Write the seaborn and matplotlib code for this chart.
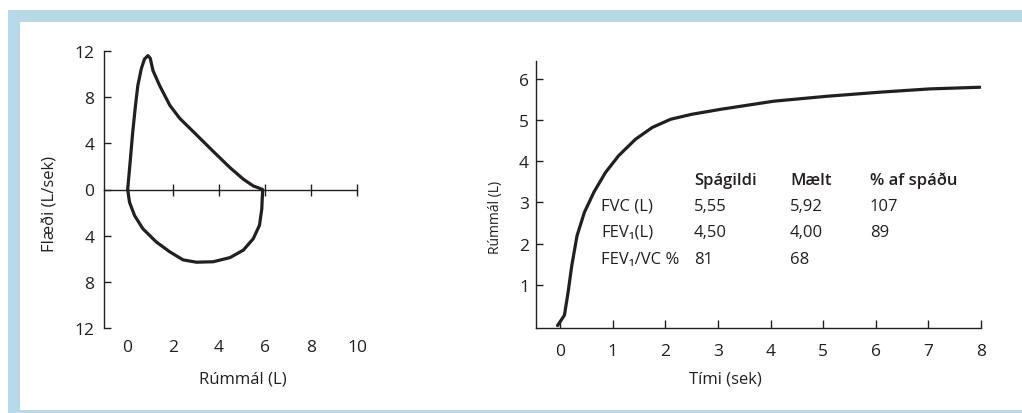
import matplotlib
matplotlib.use("Agg")
import matplotlib.pyplot as plt
import seaborn as sns
import pandas as pd
from matplotlib.patches import Rectangle

# ---------------- data ----------------
# flow-volume loop (expiration: positive flow, inspiration: negative flow)
loop_volume = [0.03, 0.14, 0.25, 0.37, 0.47, 0.62, 0.76, 0.91, 1.01, 1.13, 1.42, 1.86,
               2.29, 3.02, 3.75, 4.48, 5.06, 5.49, 5.90,
               5.88, 5.86, 5.76, 5.49, 5.06, 4.48, 3.75, 3.02, 2.44, 1.86, 1.27,
               0.69, 0.33, 0.11, 0.03]
loop_flow = [0.0, 2.46, 5.0, 7.3, 9.0, 10.45, 11.3, 11.6, 11.37, 10.3, 9.0, 7.3,
             6.17, 4.74, 3.3, 1.89, 0.89, 0.31, 0.0,
             -0.8, -1.69, -3.1, -4.26, -5.25, -5.9, -6.26, -6.3, -6.1, -5.4, -4.54,
             -3.4, -2.26, -1.11, 0.0]

# volume-time curve
time_s = [-0.05, 0.08, 0.15, 0.22, 0.32, 0.46, 0.64, 0.86, 1.11, 1.43, 1.75, 2.1,
          2.5, 3.04, 4.06, 5.07, 6.08, 7.03, 7.98]
volume_l = [0.0, 0.25, 0.81, 1.46, 2.19, 2.76, 3.25, 3.73, 4.14, 4.54, 4.83, 5.03,
            5.15, 5.27, 5.47, 5.59, 5.69, 5.77, 5.81]

left_xticks = [0, 2, 4, 6, 8, 10]
left_axis_ticks = [2, 4, 6, 8, 10]
left_yticks = [-12, -8, -4, 0, 4, 8, 12]
right_xticks = [0, 1, 2, 3, 4, 5, 6, 7, 8]
right_yticks = [1, 2, 3, 4, 5, 6]

table_header = ["Spágildi", "Mælt", "% af spáðu"]
table_rows = ["FVC (L)", "FEV\u2081(L)", "FEV\u2081/VC %"]
predicted = ["5,55", "4,50", "81"]
measured = ["5,92", "4,00", "68"]
pct_pred = ["107", "89", ""]

# ---------------- style ----------------
sns.set_style("ticks")
plt.rcParams["font.family"] = ["Open Sans", "DejaVu Sans"]
plt.rcParams["axes.linewidth"] = 1.0
ink = "#231f20"
fs = 12
tfs = 12.5

W, H = 1022, 414
fig = plt.figure(figsize=(W / 100, H / 100), dpi=100)
fig.patch.set_facecolor("white")
blue = "#b9d9e9"
fig.patches.append(Rectangle((8 / W, 0), 12 / W, (H - 11) / H, transform=fig.transFigure,
                             facecolor=blue, edgecolor="none", zorder=0))
fig.patches.append(Rectangle((8 / W, (H - 23) / H), (W - 8) / W, 12 / H, transform=fig.transFigure,
                             facecolor=blue, edgecolor="none", zorder=0))
fig.patches.append(Rectangle((20 / W, 0), (W - 20) / W, 3 / H, transform=fig.transFigure,
                             facecolor=blue, edgecolor="none", zorder=0))

def px_axes(l, t, r, b):
    return fig.add_axes([l / W, (H - b) / H, (r - l) / W, (b - t) / H])

# ---------------- left: flow-volume loop ----------------
ax1 = px_axes(104, 52, 357, 329)
df1 = pd.DataFrame({"vol": loop_volume, "flow": loop_flow})
sns.lineplot(data=df1, x="vol", y="flow", sort=False, estimator=None, ax=ax1,
             color=ink, linewidth=2.3)
ax1.set_xlim(-1, 10)
ax1.set_ylim(-12, 12)
for s in ["top", "right"]:
    ax1.spines[s].set_visible(False)
ax1.spines["bottom"].set_position(("data", 0))
ax1.spines["bottom"].set_color(ink)
ax1.spines["left"].set_color(ink)
ax1.set_xticks(left_axis_ticks)
ax1.tick_params(axis="x", direction="inout", length=8, width=1, color=ink, labelbottom=False)
ax1.set_yticks(left_yticks)
ax1.set_yticklabels([str(abs(v)) for v in left_yticks])
ax1.tick_params(axis="y", direction="in", length=5, width=1, color=ink, pad=7,
                labelsize=tfs, labelcolor=ink)
ax1.set_xlabel("Rúmmál (L)", fontsize=fs, color=ink)
ax1.xaxis.set_label_coords(0.549, -0.184)
ax1.xaxis.label.set_va("center")
ax1.set_ylabel("Flæði (L/sek)", fontsize=fs, color=ink)
ax1.yaxis.set_label_coords(-0.213, 0.45)
ax1.yaxis.label.set_va("center")

sec = ax1.secondary_xaxis("bottom")
sec.set_xticks(left_xticks)
sec.spines["bottom"].set_visible(False)
sec.tick_params(length=0, pad=8, labelsize=tfs, labelcolor=ink)

# ---------------- right: volume-time ----------------
ax2 = px_axes(536, 62, 981, 329)
df2 = pd.DataFrame({"t": time_s, "v": volume_l})
sns.lineplot(data=df2, x="t", y="v", sort=False, estimator=None, ax=ax2,
             color=ink, linewidth=2.3)
ax2.set_xlim(-0.46, 8)
ax2.set_ylim(-0.06, 6.45)
for s in ["top", "right"]:
    ax2.spines[s].set_visible(False)
ax2.spines["bottom"].set_color(ink)
ax2.spines["left"].set_color(ink)
ax2.set_xticks(right_xticks)
ax2.set_yticks(right_yticks)
ax2.tick_params(axis="x", direction="in", length=6, width=1, color=ink, pad=11,
                labelsize=tfs, labelcolor=ink)
ax2.tick_params(axis="y", direction="in", length=5, width=1, color=ink, pad=5,
                labelsize=tfs, labelcolor=ink)
ax2.set_xlabel("Tími (sek)", fontsize=fs, color=ink)
ax2.xaxis.set_label_coords(0.425, -0.19)
ax2.xaxis.label.set_va("center")
ax2.set_ylabel("Rúmmál (L)", fontsize=10, color=ink)
ax2.yaxis.set_label_coords(-0.092, 0.416)
ax2.yaxis.label.set_va("center")

# table of results (axes-fraction positions)
tr = ax2.transAxes
def fx(px):
    return (px - 536) / 445
def fy(py):
    return (329.3 - py) / 267.3

col_x = [fx(694), fx(790), fx(870)]
row_label_x = fx(601)
header_y = fy(181)
row_y = [fy(207), fy(233), fy(260)]
for x, h in zip(col_x, table_header):
    ax2.text(x, header_y, h, transform=tr, fontsize=fs, fontweight="semibold",
             color=ink, ha="left", va="center")
for i, lab in enumerate(table_rows):
    ax2.text(row_label_x, row_y[i], lab, transform=tr, fontsize=fs, color=ink,
             ha="left", va="center")
    for x, col in zip(col_x, [predicted, measured, pct_pred]):
        ax2.text(x, row_y[i], col[i], transform=tr, fontsize=fs, color=ink,
                 ha="left", va="center")

fig.savefig("out.png", dpi=100, facecolor="white")
